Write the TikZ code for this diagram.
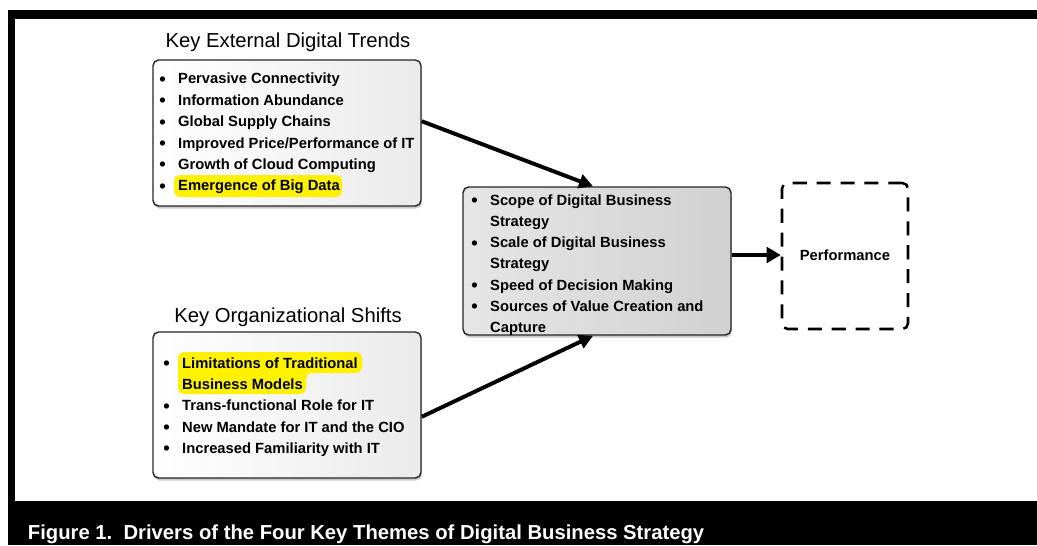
\documentclass[tikz,border=0pt]{standalone}
\usepackage{fontspec}
\setmainfont{Liberation Sans}
\usetikzlibrary{fit,shadows,arrows.meta}

\newcommand{\dotitem}{\raisebox{-0.9pt}{\fontsize{13}{13}\selectfont\textbullet}}

\tikzset{
  box/.style={draw=black!85, line width=1pt, rounded corners=4pt, inner sep=0pt},
  lightbox/.style={box, left color=white, right color=gray!16,
    drop shadow={shadow xshift=0.6pt, shadow yshift=-1.8pt, fill=gray!70, opacity=0.6}},
  darkbox/.style={box, left color=gray!20, right color=gray!36,
    drop shadow={shadow xshift=0.6pt, shadow yshift=-1.8pt, fill=gray!70, opacity=0.6}},
  perfbox/.style={draw, line width=1.8pt, rounded corners=4pt, dash pattern=on 10pt off 7pt, inner sep=0pt},
  title/.style={font=\fontsize{14.4}{16}\selectfont, anchor=base},
  items/.style={font=\fontsize{10.5}{15.2}\selectfont\bfseries, anchor=base west, inner sep=0pt},
  hilite/.style={fill=yellow, rounded corners=4pt},
  driver/.style={line width=2.8pt, -{Triangle[length=10pt,width=10pt]}}
}

\begin{document}
\begin{tikzpicture}[x=0.025cm, y=-0.025cm]
        \useasboundingbox (0,0) rectangle (1037,545);
        \fill[black] (8,10) rectangle (1037,545);
        \fill[white] (15,19) rectangle (1037,501);

        \node[lightbox, fit={(153,60) (421,206)}] (ext) {};
        \node[lightbox, fit={(153,332) (421,478)}] (org) {};
        \node[darkbox, fit={(463,187) (731,335)}] (theme) {};
        \node[perfbox, fit={(782,183) (908,329)}] (perf) {};
        \node[font=\fontsize{10.5}{12}\selectfont\bfseries] (perftext) at (845,255) {Performance};

        \fill[hilite] (174,175) rectangle (342,197);
        \fill[hilite] (178,352) -- (362,352) -- (362,373) -- (306,373) -- (306,394) -- (178,394) -- cycle;

        \node[title] (exttitle) at (288,48) {Key External Digital Trends};
        \node[title] (orgtitle) at (288,322) {Key Organizational Shifts};

        \node[items] (extlist) at (159.2,84) {\begin{tabular}[t]{@{}p{13.3pt}@{}l@{}}
          \dotitem & Pervasive Connectivity\\
          \dotitem & Information Abundance\\
          \dotitem & Global Supply Chains\\
          \dotitem & Improved Price/Performance of IT\\
          \dotitem & Growth of Cloud Computing\\
          \dotitem & Emergence of Big Data
        \end{tabular}};
        \node[items] (orglist) at (163.2,368) {\begin{tabular}[t]{@{}p{13.3pt}@{}l@{}}
          \dotitem & Limitations of Traditional\\
                   & Business Models\\
          \dotitem & Trans-functional Role for IT\\
          \dotitem & New Mandate for IT and the CIO\\
          \dotitem & Increased Familiarity with IT
        \end{tabular}};
        \node[items, font=\fontsize{10.5}{15.05}\selectfont\bfseries] (themelist) at (471.2,205.5) {\begin{tabular}[t]{@{}p{13.3pt}@{}l@{}}
          \dotitem & Scope of Digital Business\\
                   & Strategy\\
          \dotitem & Scale of Digital Business\\
                   & Strategy\\
          \dotitem & Speed of Decision Making\\
          \dotitem & Sources of Value Creation and\\
                   & Capture
        \end{tabular}};

        \draw[driver] (ext.5) -- (theme.93);
        \draw[driver] (org.-5) -- (theme.-93);
        \draw[line width=3.5pt, -{Triangle[length=10pt,width=11pt]}] (theme.east |- perftext) -- (perf.west |- perftext);

        \node[anchor=base west, text=white, font=\fontsize{14.4}{16}\selectfont\bfseries] (caption) at (23,539)
          {Figure 1.\ \ Drivers of the Four Key Themes of Digital Business Strategy};
    \end{tikzpicture}
\end{document}
